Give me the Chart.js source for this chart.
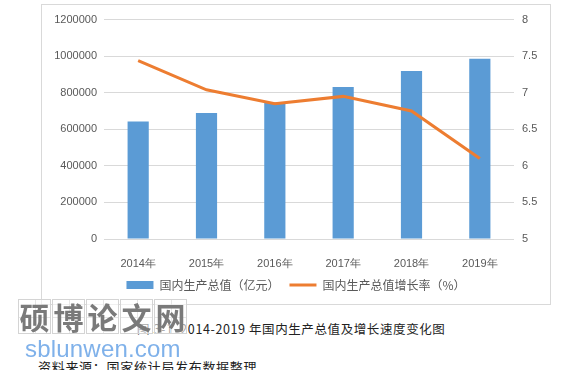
<!DOCTYPE html>
<html>
<head>
<meta charset="utf-8">
<script src="https://cdn.jsdelivr.net/npm/chart.js@4"></script>
<style>
    html, body { margin: 0; padding: 0; background: #fff; }
    body { width: 565px; height: 370px; position: relative; overflow: hidden; font-family: "Noto Sans CJK SC", sans-serif; }
    #frame { position: absolute; left: 41px; top: 4px; width: 508px; height: 299px; border: 1px solid #d9d9d9; }
    #frame canvas { position: absolute; left: 0; top: 0; }
    .caption { position: absolute; left: 137px; top: 319px; font-size: 12.5px; color: #222; white-space: pre; letter-spacing: 0.6px; }
    .source { position: absolute; left: 38px; top: 357px; font-size: 13px; color: #222; letter-spacing: 0.7px; white-space: pre; }
    .wm { position: absolute; left: 18px; top: 299px; display: flex; }
    .wm span { position: relative; width: 33px; height: 35px; margin-right: 1px; border: 1px solid #d4d4d4; box-sizing: border-box;
               background: rgba(255,255,255,0.6); color: #7a7a7a; font-size: 30px; font-weight: 700; line-height: 33px; text-align: center; }
    .wm span::before { content: ''; position: absolute; left: 50%; top: 0; bottom: 0; border-left: 1px solid #e6e6e6; }
    .wm span::after { content: ''; position: absolute; top: 50%; left: 0; right: 0; border-top: 1px solid #e6e6e6; }
    .wm b { position: relative; z-index: 1; font-weight: 700; }
    .site { position: absolute; left: 25px; top: 335px; font-family: "Liberation Sans", sans-serif; font-size: 24px; color: #7fb1ea; letter-spacing: 0.2px; }
</style>
</head>
<body>
<div id="frame"><canvas id="grafico"></canvas></div>
<div class="caption">图 3-1  2014-2019 年国内生产总值及增长速度变化图</div>
<div class="source">资料来源：国家统计局发布数据整理</div>
<div class="wm"><span><b>硕</b></span><span><b>博</b></span><span><b>论</b></span><span><b>文</b></span><span><b>网</b></span></div>
<div class="site">sblunwen.com</div>
<script>
// dados
const anos = ['2014年', '2015年', '2016年', '2017年', '2018年', '2019年'];
const gdpValores = [643000, 689000, 746000, 832000, 919000, 986000];
const taxaCrescimento = [7.44, 7.04, 6.85, 6.95, 6.75, 6.1];
const ticksEsquerda = [0, 200000, 400000, 600000, 800000, 1000000, 1200000];
const ticksDireita = [5, 5.5, 6, 6.5, 7, 7.5, 8];

const corTexto = '#595959';
const corGrade = '#d9d9d9';

function renderChart() {
    const ctx = document.getElementById('grafico').getContext('2d');
    new Chart(ctx, {
        type: 'bar',
        data: {
            labels: anos,
            datasets: [
                {
                    type: 'bar',
                    label: '国内生产总值（亿元）',
                    data: gdpValores,
                    backgroundColor: '#5b9bd5',
                    borderWidth: 0,
                    barPercentage: 0.31,
                    categoryPercentage: 1,
                    yAxisID: 'y',
                    order: 1
                },
                {
                    type: 'line',
                    label: '国内生产总值增长率（%）',
                    data: taxaCrescimento,
                    borderColor: '#ed7d31',
                    backgroundColor: '#ed7d31',
                    borderWidth: 3,
                    pointRadius: 0,
                    tension: 0,
                    yAxisID: 'y1',
                    order: 0
                }
            ]
        },
        options: {
            responsive: false,
            animation: false,
            layout: { padding: { left: 0, right: 0, top: 14, bottom: 3 } },
            scales: {
                x: {
                    grid: { display: false },
                    border: { display: false },
                    ticks: { color: corTexto, font: { family: 'Liberation Sans', size: 11 }, padding: 10, maxRotation: 0 },
                    afterFit: (s) => { s.height = 30; }
                },
                y: {
                    position: 'left',
                    min: 0, max: 1200000,
                    afterBuildTicks: (s) => { s.ticks = ticksEsquerda.map(v => ({ value: v })); },
                    grid: { color: corGrade, drawTicks: false },
                    border: { display: false },
                    ticks: { color: corTexto, font: { family: 'Liberation Sans', size: 11 }, padding: 7, callback: (v) => String(v) },
                    afterFit: (s) => { s.width = 62; }
                },
                y1: {
                    position: 'right',
                    min: 5, max: 8,
                    afterBuildTicks: (s) => { s.ticks = ticksDireita.map(v => ({ value: v })); },
                    grid: { display: false, drawTicks: false },
                    border: { display: false },
                    ticks: { color: corTexto, font: { family: 'Liberation Sans', size: 11 }, padding: 8, callback: (v) => String(v) },
                    afterFit: (s) => { s.width = 36; }
                }
            },
            plugins: {
                tooltip: { enabled: false },
                legend: {
                    position: 'bottom',
                    labels: {
                        color: corTexto,
                        font: { family: 'Noto Sans CJK SC', size: 12 },
                        usePointStyle: true,
                        pointStyleWidth: 27,
                        boxHeight: 8,
                        padding: 10,
                        sort: (a, b) => a.datasetIndex - b.datasetIndex,
                        generateLabels: (chart) => {
                            const itens = Chart.defaults.plugins.legend.labels.generateLabels(chart);
                            itens.forEach(it => { it.pointStyle = it.datasetIndex === 0 ? 'rect' : 'line'; });
                            return itens;
                        }
                    }
                }
            }
        }
    });
}

const cv = document.getElementById('grafico');
cv.width = 508; cv.height = 299;
cv.style.width = '508px'; cv.style.height = '299px';
renderChart();
</script>
</body>
</html>
